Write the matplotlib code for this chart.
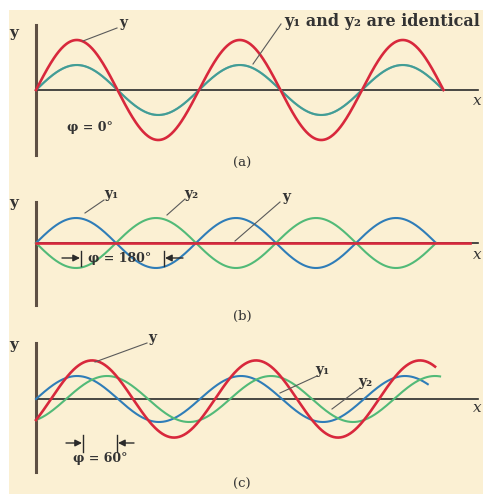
import numpy as np
import matplotlib
matplotlib.use("Agg")
import matplotlib.pyplot as plt
from matplotlib.patches import Rectangle

W, H = 483, 494

# wave parameters (one entry per panel a, b, c)
panel_names = ["(a)", "(b)", "(c)"]
phase_diff = [0, 180, 66]        # how far y2 lags y1, degrees
amp_wave = [1.0, 1.0, 0.92]      # amplitude of y1 and y2
y1_end = [900, 900, 860]         # where each drawn curve stops, degrees
y2_end = [900, 900, 887]
y_end = [900, 976, 876]
phi_labels = ["\u03c6 = 0\u00b0", "\u03c6 = 180\u00b0", "\u03c6 = 60\u00b0"]

RED = "#d8283c"
BLUE = "#2f7db8"
GREEN = "#52ba78"
AXIS = "#2a2a2a"
YAXIS = "#5e5044"
BG = "#fbf0d3"
TXT = "#333333"
LEAD = "#5a5a5a"

# layout in pixels
band_top = [0, 170, 320]
band_bot = [170, 320, 494]
zero_px = [90, 243, 399]
yaxis_top = [25, 202, 343]
yaxis_bot = [155, 305, 472]
lam_px = [163, 160, 164]
x0 = 36
unit_px = 25
xaxis_end = 478

fig = plt.figure(figsize=(W / 100, H / 100), dpi=100)
fig.add_artist(Rectangle((9 / W, 0), 1, (H - 10) / H, transform=fig.transFigure,
                         facecolor=BG, edgecolor="none", zorder=-1))

for i in range(3):
    t, b, z = band_top[i], band_bot[i], zero_px[i]
    ax = fig.add_axes([0, 1 - b / H, 1, (b - t) / H])
    ax.set_facecolor("none")
    deg_px = 360 / lam_px[i]
    ax.set_xlim(-x0 * deg_px, (W - x0) * deg_px)
    ax.set_ylim(-(b - z) / unit_px, (z - t) / unit_px)

    th1 = np.linspace(0, y1_end[i], 500)
    th2 = np.linspace(0, y2_end[i], 500)
    th = np.linspace(0, y_end[i], 500)
    y1 = amp_wave[i] * np.sin(np.radians(th1))
    y2 = amp_wave[i] * np.sin(np.radians(th2 - phase_diff[i]))
    y = amp_wave[i] * (np.sin(np.radians(th)) + np.sin(np.radians(th - phase_diff[i])))

    ax.plot(th1, y1, color=BLUE, lw=1.5, zorder=3)
    ax.plot(th2, y2, color=GREEN, lw=1.5, zorder=3, alpha=0.55 if i == 0 else 1)
    ax.plot(th, y, color=RED, lw=1.9, zorder=4)

    for s in ["top", "right"]:
        ax.spines[s].set_visible(False)
    ax.spines["left"].set_position(("data", 0))
    ax.spines["left"].set_bounds(-(yaxis_bot[i] - z) / unit_px, (z - yaxis_top[i]) / unit_px)
    ax.spines["left"].set_color(YAXIS)
    ax.spines["left"].set_linewidth(2.2)
    ax.spines["bottom"].set_position(("data", 0))
    ax.spines["bottom"].set_bounds(0, (xaxis_end - x0) * deg_px)
    ax.spines["bottom"].set_color(AXIS)
    ax.spines["bottom"].set_linewidth(1.2)
    ax.set_xticks([])
    ax.set_yticks([])

# overlay for labels, in pixel coordinates
ov = fig.add_axes([0, 0, 1, 1])
ov.set_xlim(0, W)
ov.set_ylim(H, 0)
ov.axis("off")
ov.set_facecolor("none")

FONT = "DejaVu Serif"


def label(x, y, s, size=10, ha="center", style="normal", weight="bold"):
    ov.text(x, y, s, ha=ha, va="center", fontsize=size, family=FONT,
            style=style, weight=weight, color=TXT)


def leader(p, q):
    ov.plot([p[0], q[0]], [p[1], q[1]], color=LEAD, lw=0.8)


# axis names
for ypos in [33, 203, 345]:
    label(14, ypos, "y", size=11)
for ypos in [101, 255, 408]:
    label(477, ypos, "x", size=11, style="italic", weight="normal")

# panel (a)
label(123, 23, "y", size=10)
leader((83, 41), (117, 28))
label(284, 21, "y\u2081 and y\u2082 are identical", size=11.5, ha="left")
leader((253, 64), (281, 24))
label(90, 127, phi_labels[0], size=9)
label(242, 163, panel_names[0], size=9.5, weight="normal")

# panel (b)
label(111, 194, "y\u2081")
leader((85, 213), (104, 200))
label(191, 194, "y\u2082")
leader((167, 215), (185, 199))
label(286, 197, "y")
leader((235, 241), (280, 202))
label(120, 258, phi_labels[1], size=9)
ov.plot([81, 81], [251, 266], color=AXIS, lw=1)
ov.plot([164, 164], [251, 266], color=AXIS, lw=1)
ov.annotate("", xy=(80, 258), xytext=(62, 258),
            arrowprops=dict(arrowstyle="-|>", color=AXIS, lw=1, shrinkA=0, shrinkB=0))
ov.annotate("", xy=(165, 258), xytext=(183, 258),
            arrowprops=dict(arrowstyle="-|>", color=AXIS, lw=1, shrinkA=0, shrinkB=0))
label(242, 316, panel_names[1], size=9.5, weight="normal")

# panel (c)
label(152, 338, "y")
leader((95, 362), (147, 343))
label(322, 370, "y\u2081")
leader((280, 393), (317, 376))
label(365, 382, "y\u2082")
leader((332, 409), (360, 388))
label(100, 458, phi_labels[2], size=9)
ov.plot([83, 83], [435, 452], color=AXIS, lw=1)
ov.plot([117, 117], [435, 452], color=AXIS, lw=1)
ov.annotate("", xy=(82, 443), xytext=(66, 443),
            arrowprops=dict(arrowstyle="-|>", color=AXIS, lw=1, shrinkA=0, shrinkB=0))
ov.annotate("", xy=(118, 443), xytext=(134, 443),
            arrowprops=dict(arrowstyle="-|>", color=AXIS, lw=1, shrinkA=0, shrinkB=0))
label(242, 484, panel_names[2], size=9.5, weight="normal")

fig.savefig("out.png", dpi=100)
